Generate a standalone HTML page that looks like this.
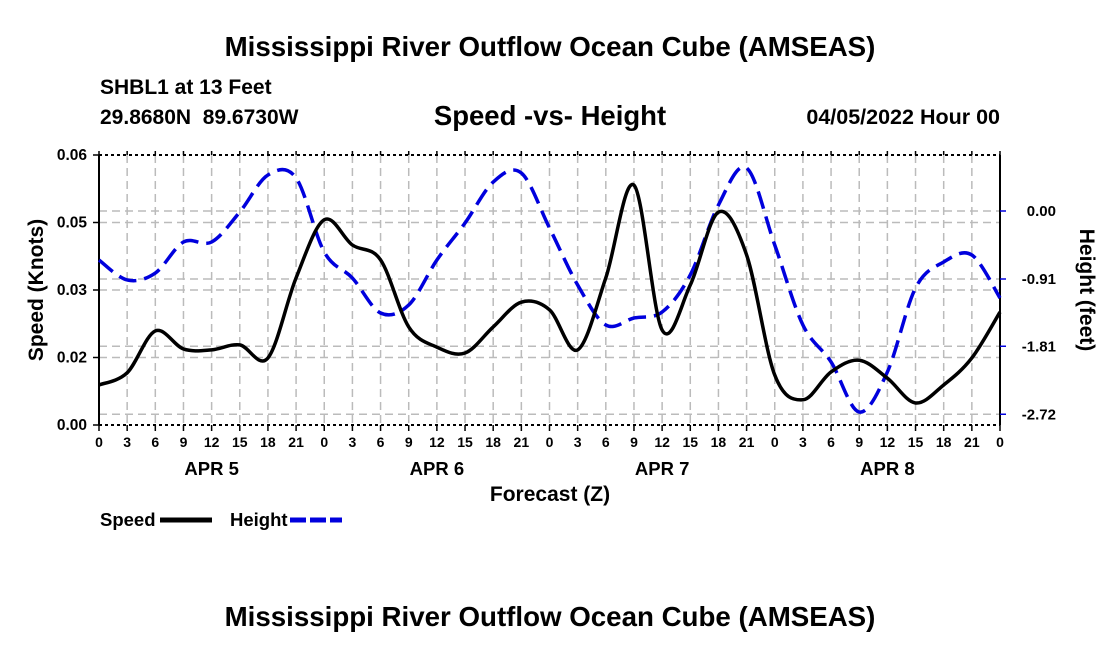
<!DOCTYPE html>
<html><head><meta charset="utf-8"><style>
body{margin:0;background:#fff;}
svg text{font-family:"Liberation Sans",sans-serif;font-weight:bold;}
</style></head><body>
<svg id="chart" width="1100" height="650" xmlns="http://www.w3.org/2000/svg">
<text x="550" y="56" font-size="27.7" text-anchor="middle">Mississippi River Outflow Ocean Cube (AMSEAS)</text>
<text x="100" y="94" font-size="21">SHBL1 at 13 Feet</text>
<text x="100" y="124" font-size="21" xml:space="preserve">29.8680N  89.6730W</text>
<text x="550" y="125" font-size="27.5" text-anchor="middle">Speed -vs- Height</text>
<text x="1000" y="124" font-size="21.5" text-anchor="end">04/05/2022 Hour 00</text>
<text transform="translate(43,290) rotate(-90)" font-size="21" text-anchor="middle">Speed (Knots)</text>
<text transform="translate(1080,290) rotate(90)" font-size="21" text-anchor="middle">Height (feet)</text>
<text x="550" y="501" font-size="21" text-anchor="middle">Forecast (Z)</text>
<g id="grid"></g>
<g id="axes"></g>
<g id="series"></g>
<g>
<text x="100" y="526" font-size="18.5">Speed</text>
<line x1="160" y1="520" x2="212" y2="520" stroke="#000" stroke-width="5"/>
<text x="230" y="526" font-size="18.5">Height</text>
<line x1="290" y1="520" x2="342" y2="520" stroke="#0000dd" stroke-width="5" stroke-dasharray="16,4"/>
</g>
<text x="550" y="626" font-size="27.7" text-anchor="middle">Mississippi River Outflow Ocean Cube (AMSEAS)</text>
</svg>
<script>
const hours = [0,3,6,9,12,15,18,21,24,27,30,33,36,39,42,45,48,51,54,57,60,63,66,69,72,75,78,81,84,87,90,93,96];
const speed = [0.0089,0.0116,0.0209,0.0169,0.0167,0.0178,0.0149,0.0327,0.0456,0.0400,0.0367,0.0218,0.0173,0.0160,0.0218,0.0273,0.0256,0.0167,0.0327,0.0533,0.0211,0.0311,0.0473,0.0378,0.0111,0.0056,0.0118,0.0144,0.0104,0.0049,0.0089,0.0149,0.0251];
const height = [-0.656,-0.923,-0.830,-0.415,-0.415,-0.013,0.482,0.442,-0.549,-0.897,-1.365,-1.258,-0.656,-0.161,0.388,0.508,-0.227,-0.990,-1.525,-1.432,-1.352,-0.856,0.080,0.575,-0.455,-1.525,-2.020,-2.69,-2.154,-1.030,-0.682,-0.589,-1.164];
const leftTicks = [0,0.015,0.03,0.045,0.06];
const leftTickLabels = ["0.00","0.02","0.03","0.05","0.06"];
const rightTicks = [0,-0.91,-1.81,-2.72];
const rightTickLabels = ["0.00","-0.91","-1.81","-2.72"];
const dayLabels = ["APR 5","APR 6","APR 7","APR 8"];

const X0=99,X1=1000,Y0=425,Y1=155;
const xs=h=>X0+(X1-X0)*h/96;
const yl=v=>Y0-(Y0-Y1)*v/0.06;
const yr=v=>211-v*68/0.91;
const NS="http://www.w3.org/2000/svg";
function mk(tag,attrs,parent){const e=document.createElementNS(NS,tag);for(const k in attrs)e.setAttribute(k,attrs[k]);parent.appendChild(e);return e;}
const grid=document.getElementById('grid'),axes=document.getElementById('axes'),series=document.getElementById('series');
for(let h=3;h<96;h+=3){const l=mk('line',{x1:xs(h),x2:xs(h),y1:Y1,y2:Y0,stroke:'#bbb','stroke-width':1.5,'stroke-dasharray':'8,5'},grid);

}
leftTicks.slice(1,4).forEach(v=>{const l=mk('line',{x1:X0,x2:X1,y1:yl(v),y2:yl(v),stroke:'#bbb','stroke-width':1.5,'stroke-dasharray':'8,5'},grid);

});
rightTicks.forEach(v=>{const l=mk('line',{x1:X0,x2:X1,y1:yr(v),y2:yr(v),stroke:'#bbb','stroke-width':1.5,'stroke-dasharray':'8,5'},grid);

});
[[X0,Y1,X0,Y0,'none'],[X1,Y1,X1,Y0,'none'],[X0,Y1,X1,Y1,'3,3'],[X0,Y0,X1,Y0,'3,3']].forEach(a=>{const l=mk('line',{x1:a[0],y1:a[1],x2:a[2],y2:a[3],stroke:'#000','stroke-width':2,'stroke-dasharray':a[4]},axes);

});
hours.forEach(h=>{const l=mk('line',{x1:xs(h),x2:xs(h),y1:Y0,y2:Y0+6,stroke:'#000','stroke-width':1.5},axes);


const t=mk('text',{x:xs(h),y:Y0+22,'font-size':14,'text-anchor':'middle'},axes);t.textContent=String(h%24);


const l2=mk('line',{x1:xs(h),x2:xs(h),y1:Y1,y2:Y1-4,stroke:'#000','stroke-width':1.5},axes);

});
dayLabels.forEach((d,i)=>{const t=mk('text',{x:xs(12+24*i),y:Y0+50,'font-size':18.5,'text-anchor':'middle'},axes);t.textContent=d;

});
leftTicks.forEach((v,i)=>{const l=mk('line',{x1:X0-6,x2:X0,y1:yl(v),y2:yl(v),stroke:'#000','stroke-width':1.5},axes);


const t=mk('text',{x:X0-12,y:yl(v)+5,'font-size':15.5,'text-anchor':'end'},axes);t.textContent=leftTickLabels[i];

});
rightTicks.forEach((v,i)=>{const l=mk('line',{x1:X1,x2:X1+6,y1:yr(v),y2:yr(v),stroke:'#0000dd','stroke-width':1.5},axes);


const t=mk('text',{x:1056,y:yr(v)+5,'font-size':15,'text-anchor':'end'},axes);t.textContent=rightTickLabels[i];

});
function smooth(pts){let d='M'+pts[0][0]+','+pts[0][1];for(let i=0;i<pts.length-1;i++){const p0=pts[Math.max(0,i-1)],p1=pts[i],p2=pts[i+1],p3=pts[Math.min(pts.length-1,i+2)];
d+=' C'+(p1[0]+(p2[0]-p0[0])/6)+','+(p1[1]+(p2[1]-p0[1])/6)+' '+(p2[0]-(p3[0]-p1[0])/6)+','+(p2[1]-(p3[1]-p1[1])/6)+' '+p2[0]+','+p2[1];}return d;}
const hp=mk('path',{d:smooth(hours.map((h,i)=>[xs(h),yr(height[i])])),fill:'none',stroke:'#0000dd','stroke-width':3.5,'stroke-dasharray':'18,8'},series);


const sp=mk('path',{d:smooth(hours.map((h,i)=>[xs(h),yl(speed[i])])),fill:'none',stroke:'#000','stroke-width':3.5},series);


</script>
</body></html>
